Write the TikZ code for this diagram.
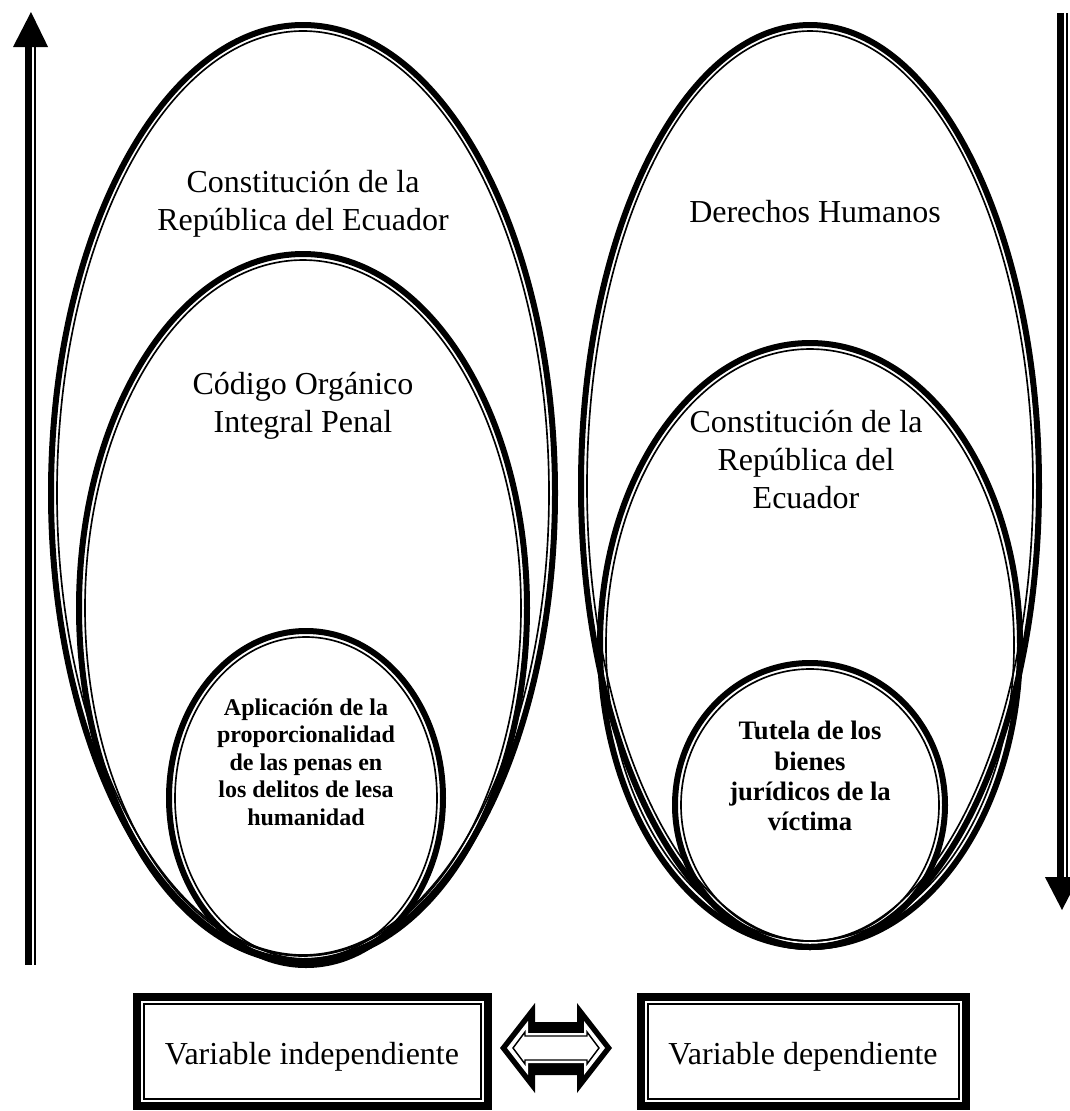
\documentclass[tikz,border=0pt]{standalone}
\usepackage{fontspec}
\setmainfont{Liberation Serif}
\newcommand\dblell[4]{%
  \draw[thk] (#1,#2) ellipse [x radius=#3-3, y radius=#4-3];
  \draw[thn] (#1,#2) ellipse [x radius=#3-9, y radius=#4-9];}
\newcommand\dblbox[4]{%
  \draw[bthk] (#1+4,#2+4) rectangle (#3-4,#4-4);
  \draw[bthn] (#1+11,#2+11) rectangle (#3-11,#4-11);}
\begin{document}
\begin{tikzpicture}[x=0.375pt,y=-0.375pt,
  thk/.style={line width=2.25pt},
  thn/.style={line width=0.62pt},
  bthk/.style={line width=3pt},
  bthn/.style={line width=0.6pt},
  shaftthk/.style={line width=2.625pt},
  shaftthn/.style={line width=0.75pt},
  lbl/.style={font=\fontsize{12}{14.25}\selectfont, align=center, inner sep=0pt},
  lblsmall/.style={font=\bfseries\fontsize{9}{10.3}\selectfont, align=center, inner sep=0pt},
  lblsmallr/.style={font=\bfseries\fontsize{10}{11.3}\selectfont, align=center, inner sep=0pt}]
\useasboundingbox (0,0) rectangle (1070,1111);

% ---------- left group ----------
\dblell{303}{493}{255}{471}
\dblell{303}{608}{227}{357}
\dblell{306}{798}{140}{170}
\node[lbl] (cre1) at (303,204) {Constitución de la\\República del Ecuador};
\node[lbl] (coip) at (303,406) {Código Orgánico\\Integral Penal};
\node[lblsmall] (apl) at (306,762) {Aplicación de la\\proporcionalidad\\de las penas en\\los delitos de lesa\\humanidad};

% ---------- right group ----------
\dblell{810}{486}{232}{464}
\dblell{810}{645}{213}{305}
\dblell{810}{805}{138}{145}
\node[lbl] (ddhh) at (815,212) {Derechos Humanos};
\node[lbl] (cre2) at (806,460) {Constitución de la\\República del\\Ecuador};
\node[lblsmallr] (tut) at (810,776) {Tutela de los\\bienes\\jurídicos de la\\víctima};

% ---------- vertical arrows ----------
\coordinate (upTip) at (31,12);
\coordinate (upBase) at (31,47);
\coordinate (upEnd) at (31,965);
\draw[shaftthk] ([xshift=-0.94pt]upBase) -- ([xshift=-0.94pt]upEnd);
\draw[shaftthn] ([xshift=1.5pt]upBase) -- ([xshift=1.5pt]upEnd);
\fill (upTip) -- ([xshift=6.4pt]upBase) -- ([xshift=-6.75pt]upBase) -- cycle;

\coordinate (dnTop) at (1062,13);
\coordinate (dnBase) at (1062,877);
\coordinate (dnTip) at (1062,910);
\draw[shaftthk] ([xshift=-0.56pt]dnTop) -- ([xshift=-0.56pt]dnBase);
\draw[shaftthn] ([xshift=1.9pt]dnTop) -- ([xshift=1.9pt]dnBase);
\fill (dnTip) -- ([xshift=6.4pt]dnBase) -- ([xshift=-6.4pt]dnBase) -- cycle;

% ---------- boxes ----------
\dblbox{133}{993}{492}{1110}
\dblbox{637}{993}{970}{1110}
\node[lbl] (vi) at (312,1057) {Variable independiente};
\node[lbl] (vd) at (803,1057) {Variable dependiente};

% ---------- double arrow ----------
\fill (500,1048) -- (535,1003) -- (535,1022) -- (577,1022) -- (577,1003) -- (612,1048)
  -- (577,1093) -- (577,1075) -- (535,1075) -- (535,1093) -- cycle;
\fill[white] (507,1048) -- (528,1021) -- (528,1033) -- (584,1033) -- (584,1021) -- (605,1048)
  -- (584,1075) -- (584,1063) -- (528,1063) -- (528,1075) -- cycle;
\draw[line width=0.55pt] (513,1048) -- (525,1032) -- (525,1036) -- (587,1036) -- (587,1032) -- (599,1048)
  -- (587,1064) -- (587,1060) -- (525,1060) -- (525,1064) -- cycle;
\end{tikzpicture}
\end{document}
